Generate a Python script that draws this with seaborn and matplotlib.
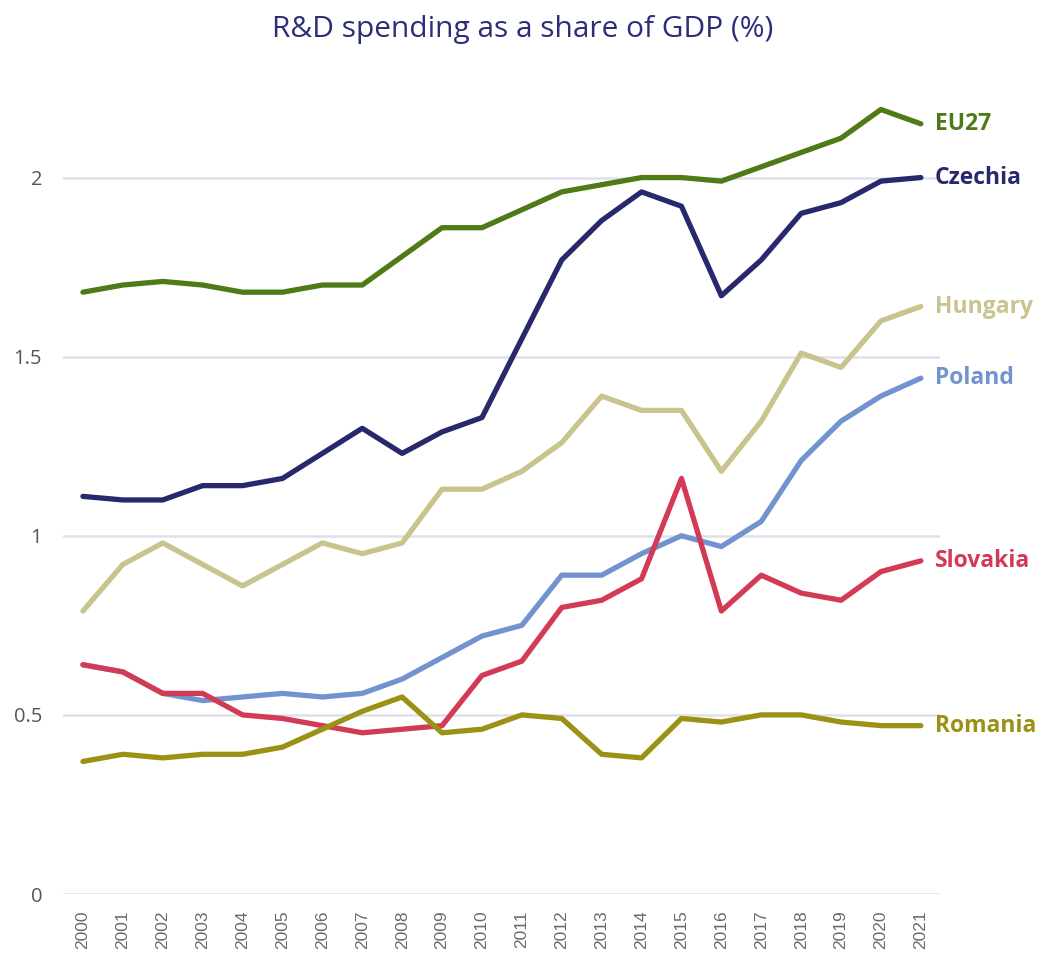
import numpy as np
import pandas as pd
import matplotlib
matplotlib.use("Agg")
import matplotlib.pyplot as plt
import seaborn as sns

years = list(range(2000, 2022))

eu27 = [1.68, 1.70, 1.71, 1.70, 1.68, 1.68, 1.70, 1.70, 1.78, 1.86, 1.86,
        1.91, 1.96, 1.98, 2.00, 2.00, 1.99, 2.03, 2.07, 2.11, 2.19, 2.15]
czechia = [1.11, 1.10, 1.10, 1.14, 1.14, 1.16, 1.23, 1.30, 1.23, 1.29, 1.33,
           1.55, 1.77, 1.88, 1.96, 1.92, 1.67, 1.77, 1.90, 1.93, 1.99, 2.00]
hungary = [0.79, 0.92, 0.98, 0.92, 0.86, 0.92, 0.98, 0.95, 0.98, 1.13, 1.13,
           1.18, 1.26, 1.39, 1.35, 1.35, 1.18, 1.32, 1.51, 1.47, 1.60, 1.64]
poland = [0.64, 0.62, 0.56, 0.54, 0.55, 0.56, 0.55, 0.56, 0.60, 0.66, 0.72,
          0.75, 0.89, 0.89, 0.95, 1.00, 0.97, 1.04, 1.21, 1.32, 1.39, 1.44]
slovakia = [0.64, 0.62, 0.56, 0.56, 0.50, 0.49, 0.47, 0.45, 0.46, 0.47, 0.61,
            0.65, 0.80, 0.82, 0.88, 1.16, 0.79, 0.89, 0.84, 0.82, 0.90, 0.93]
romania = [0.37, 0.39, 0.38, 0.39, 0.39, 0.41, 0.46, 0.51, 0.55, 0.45, 0.46,
           0.50, 0.49, 0.39, 0.38, 0.49, 0.48, 0.50, 0.50, 0.48, 0.47, 0.47]

series = {
    "EU27": eu27,
    "Czechia": czechia,
    "Hungary": hungary,
    "Poland": poland,
    "Slovakia": slovakia,
    "Romania": romania,
}
colors = {
    "EU27": "#4f7a17",
    "Czechia": "#28296d",
    "Hungary": "#c9c48d",
    "Poland": "#7193cf",
    "Slovakia": "#d33a55",
    "Romania": "#9b9114",
}

df = pd.DataFrame(
    [(y, name, v) for name, vals in series.items() for y, v in zip(years, vals)],
    columns=["year", "country", "value"],
)

sns.set_theme(style="white")
plt.rcParams["font.family"] = ["Open Sans", "DejaVu Sans"]

fig = plt.figure(figsize=(10.45, 9.57), dpi=100)
ax = fig.add_axes([63 / 1045, 63 / 957, (940 - 63) / 1045, (894 - 88) / 957])

sns.lineplot(
    data=df, x="year", y="value", hue="country", palette=colors,
    linewidth=3.8, ax=ax, legend=False, zorder=3,
    solid_capstyle="round", solid_joinstyle="round",
)

ax.set_xlim(1999.5, 2021.48)
ax.set_ylim(0, 2.25)
ax.set_yticks([0, 0.5, 1, 1.5, 2])
ax.set_yticklabels(["0", "0.5", "1", "1.5", "2"])
ax.set_xticks(years)
ax.set_xticklabels([str(y) for y in years], rotation=90, va="top",
                   family=["Liberation Sans", "DejaVu Sans"])
ax.tick_params(axis="y", labelsize=14.5, labelcolor="#555555", length=0, pad=15)
ax.tick_params(axis="x", labelsize=12.5, labelcolor="#6a6a6a", length=0, pad=12)
ax.grid(axis="y", color="#dfe0ea", linewidth=1.8, zorder=0)
ax.grid(axis="x", visible=False)
for sp in ax.spines.values():
    sp.set_visible(False)
ax.set_xlabel("")
ax.set_ylabel("")

for name, vals in series.items():
    ax.annotate(
        name, xy=(years[-1], vals[-1]), xytext=(10, 0), textcoords="offset points",
        color=colors[name], fontsize=16.5, fontweight="bold", va="center", ha="left",
        annotation_clip=False,
    )

fig.text(0.5, 1 - 30 / 957, "R&D spending as a share of GDP (%)", ha="center",
         va="center", fontsize=21.5, color="#2b2e78")

fig.savefig("out.png", dpi=100, facecolor="white")
